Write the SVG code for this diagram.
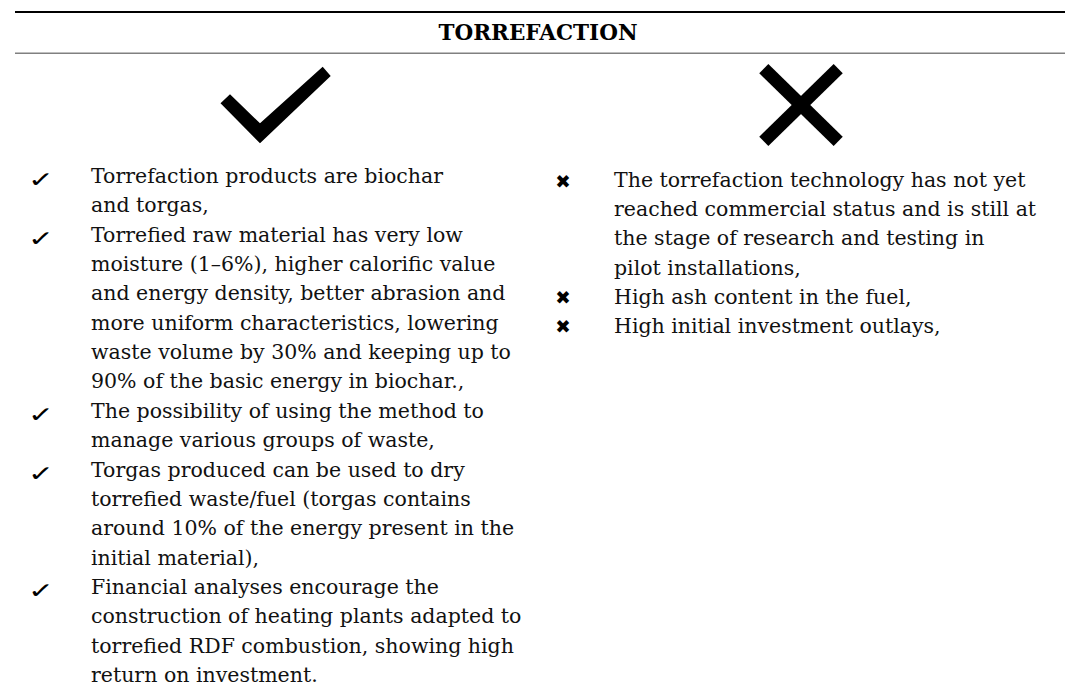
<svg xmlns="http://www.w3.org/2000/svg" width="1065" height="695" viewBox="0 0 1065 695">
<style>
.t{font-family:"DejaVu Serif","Liberation Serif",serif;font-size:20.5px;fill:#111}
.title{font-family:"DejaVu Serif","Liberation Serif",serif;font-size:21.5px;font-weight:bold;fill:#000}
.ck{font-family:"DejaVu Sans",sans-serif;font-size:31px;fill:#000}
.xm{font-family:"DejaVu Sans",sans-serif;font-size:18.5px;fill:#000}
</style>
<rect width="1065" height="695" fill="#fff"/>
<g id="header">
<line x1="15" y1="12" x2="1065" y2="12" stroke="#000" stroke-width="2"/>
<text class="title" x="538" y="40" text-anchor="middle">TORREFACTION</text>
<line x1="15" y1="53.3" x2="1065" y2="53.3" stroke="#808080" stroke-width="1.5"/>
</g>
<g id="pros-icon">
<polygon points="220.5,103.3 230,94.3 260,123.3 322.7,66.7 330.7,76 260,143.3" fill="#000"/>
</g>
<g id="cons-icon">
<line x1="763.8" y1="68.7" x2="838.2" y2="141.3" stroke="#000" stroke-width="13"/>
<line x1="838.2" y1="68.7" x2="763.8" y2="141.3" stroke="#000" stroke-width="13"/>
</g>
<g id="pros-list">
<text class="ck" transform="translate(28,187) scale(1,0.7)">✓</text>
<text class="ck" transform="translate(28,245.7) scale(1,0.7)">✓</text>
<text class="ck" transform="translate(28,421.8) scale(1,0.7)">✓</text>
<text class="ck" transform="translate(28,480.5) scale(1,0.7)">✓</text>
<text class="ck" transform="translate(28,597.9) scale(1,0.7)">✓</text>
<text class="t" x="91" y="183">Torrefaction products are biochar</text>
<text class="t" x="91" y="212.35">and torgas,</text>
<text class="t" x="91" y="241.7">Torrefied raw material has very low</text>
<text class="t" x="91" y="271.05">moisture (1–6%), higher calorific value</text>
<text class="t" x="91" y="300.4">and energy density, better abrasion and</text>
<text class="t" x="91" y="329.75">more uniform characteristics, lowering</text>
<text class="t" x="91" y="359.1">waste volume by 30% and keeping up to</text>
<text class="t" x="91" y="388.45">90% of the basic energy in biochar.,</text>
<text class="t" x="91" y="417.8">The possibility of using the method to</text>
<text class="t" x="91" y="447.15">manage various groups of waste,</text>
<text class="t" x="91" y="476.5">Torgas produced can be used to dry</text>
<text class="t" x="91" y="505.85">torrefied waste/fuel (torgas contains</text>
<text class="t" x="91" y="535.2">around 10% of the energy present in the</text>
<text class="t" x="91" y="564.55">initial material),</text>
<text class="t" x="91" y="593.9">Financial analyses encourage the</text>
<text class="t" x="91" y="623.25">construction of heating plants adapted to</text>
<text class="t" x="91" y="652.6">torrefied RDF combustion, showing high</text>
<text class="t" x="91" y="681.95">return on investment.</text>
</g>
<g id="cons-list">
<text class="xm" x="563" y="188" text-anchor="middle">✖</text>
<text class="xm" x="563" y="304" text-anchor="middle">✖</text>
<text class="xm" x="563" y="333.3" text-anchor="middle">✖</text>
<text class="t" x="614" y="186.8">The torrefaction technology has not yet</text>
<text class="t" x="614" y="216.1">reached commercial status and is still at</text>
<text class="t" x="614" y="245.4">the stage of research and testing in</text>
<text class="t" x="614" y="274.7">pilot installations,</text>
<text class="t" x="614" y="304">High ash content in the fuel,</text>
<text class="t" x="614" y="333.3">High initial investment outlays,</text>
</g>
</svg>
